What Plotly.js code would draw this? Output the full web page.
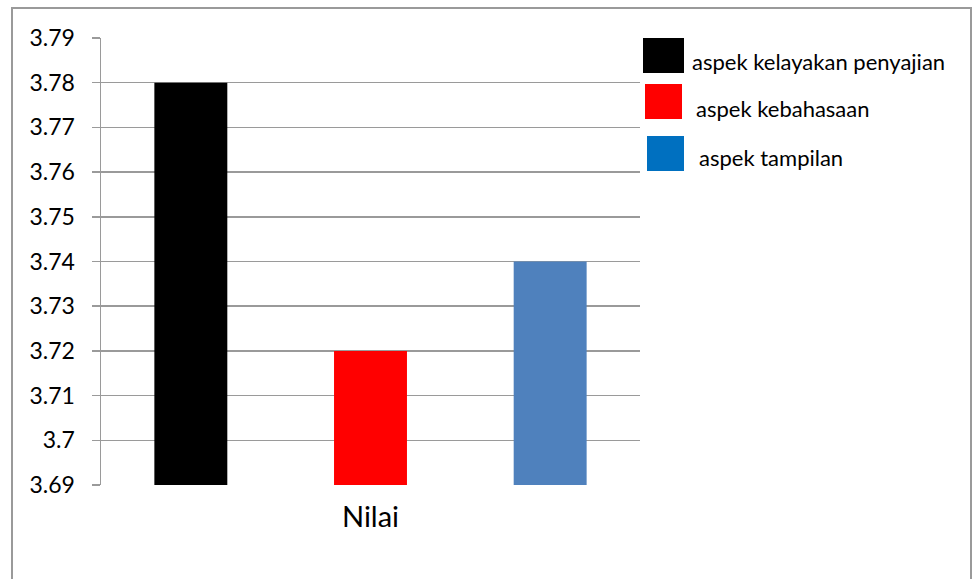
<!DOCTYPE html>
<html>
<head>
<meta charset="utf-8">
<script src="https://cdn.plot.ly/plotly-3.0.1.min.js"></script>
<style>html,body{margin:0;padding:0;background:#fff;}#chart{width:979px;height:579px;}</style>
</head>
<body>
<div id="chart"></div>
<script>
// Data
const category = ["Nilai"];
const seriesNames = ["aspek kelayakan penyajian", "aspek kebahasaan", "aspek tampilan"];
const seriesValues = [[3.78], [3.72], [3.74]];
const barColors = ["#000000", "#FF0000", "#4F81BD"];
const legendColors = ["#000000", "#FF0000", "#0070C0"];
const yTickVals = [3.69, 3.70, 3.71, 3.72, 3.73, 3.74, 3.75, 3.76, 3.77, 3.78, 3.79];
const yTickText = ["3.69", "3.7", "3.71", "3.72", "3.73", "3.74", "3.75", "3.76", "3.77", "3.78", "3.79"];

const W = 979, H = 579;
const L = 101, R = 640, T = 38, B = 485;
const px = x => (x - L) / (R - L);
const py = y => (B - y) / (B - T);

const traces = seriesNames.map((n, i) => ({
  type: 'bar', x: category, y: seriesValues[i], name: n,
  marker: {color: barColors[i]}, showlegend: false, hoverinfo: 'y'
}));

const grey = '#9a9a9a';
const font = "Lato, 'Open Sans', sans-serif";

const legBoxes = [[643, 684, 38, 73], [645, 682, 84, 119], [647, 684, 136, 171]];
const legText = [[690, 61], [694, 109], [697, 158]];

const shapes = [
  {type: 'rect', xref: 'paper', yref: 'paper', x0: px(12), x1: px(971), y0: py(8), y1: py(600),
   line: {color: grey, width: 2}, fillcolor: 'rgba(0,0,0,0)', layer: 'below'}
];
const annotations = [];
seriesNames.forEach((n, i) => {
  const b = legBoxes[i];
  shapes.push({type: 'rect', xref: 'paper', yref: 'paper', x0: px(b[0]), x1: px(b[1]), y0: py(b[3]), y1: py(b[2]),
    line: {width: 0}, fillcolor: legendColors[i]});
  annotations.push({xref: 'paper', yref: 'paper', x: px(legText[i][0]), y: py(legText[i][1]),
    xanchor: 'left', yanchor: 'middle', showarrow: false, text: n,
    font: {family: font, size: 22, color: '#000'}});
});

const layout = {
  width: W, height: H,
  margin: {l: L, r: W - R, t: T, b: H - B, pad: 0},
  paper_bgcolor: '#fff', plot_bgcolor: '#fff',
  barmode: 'group', bargap: 0, bargroupgap: 0.594,
  xaxis: {type: 'category', range: [-0.5, 0.5], showgrid: false, zeroline: false, showline: false,
    ticks: '', tickfont: {family: font, size: 29, color: '#000'}, ticklabelstandoff: 12},
  yaxis: {range: [3.69, 3.79], tickvals: yTickVals, ticktext: yTickText,
    showgrid: true, gridcolor: grey, gridwidth: 1.5, zeroline: false,
    showline: true, linecolor: grey, linewidth: 1.5,
    ticks: 'outside', ticklen: 8, tickcolor: grey, tickwidth: 1.5,
    tickfont: {family: font, size: 23, color: '#000'}, ticklabelstandoff: 12},
  shapes: shapes, annotations: annotations
};

Plotly.newPlot('chart', traces, layout, {staticPlot: true, displayModeBar: false});
</script>
</body>
</html>
